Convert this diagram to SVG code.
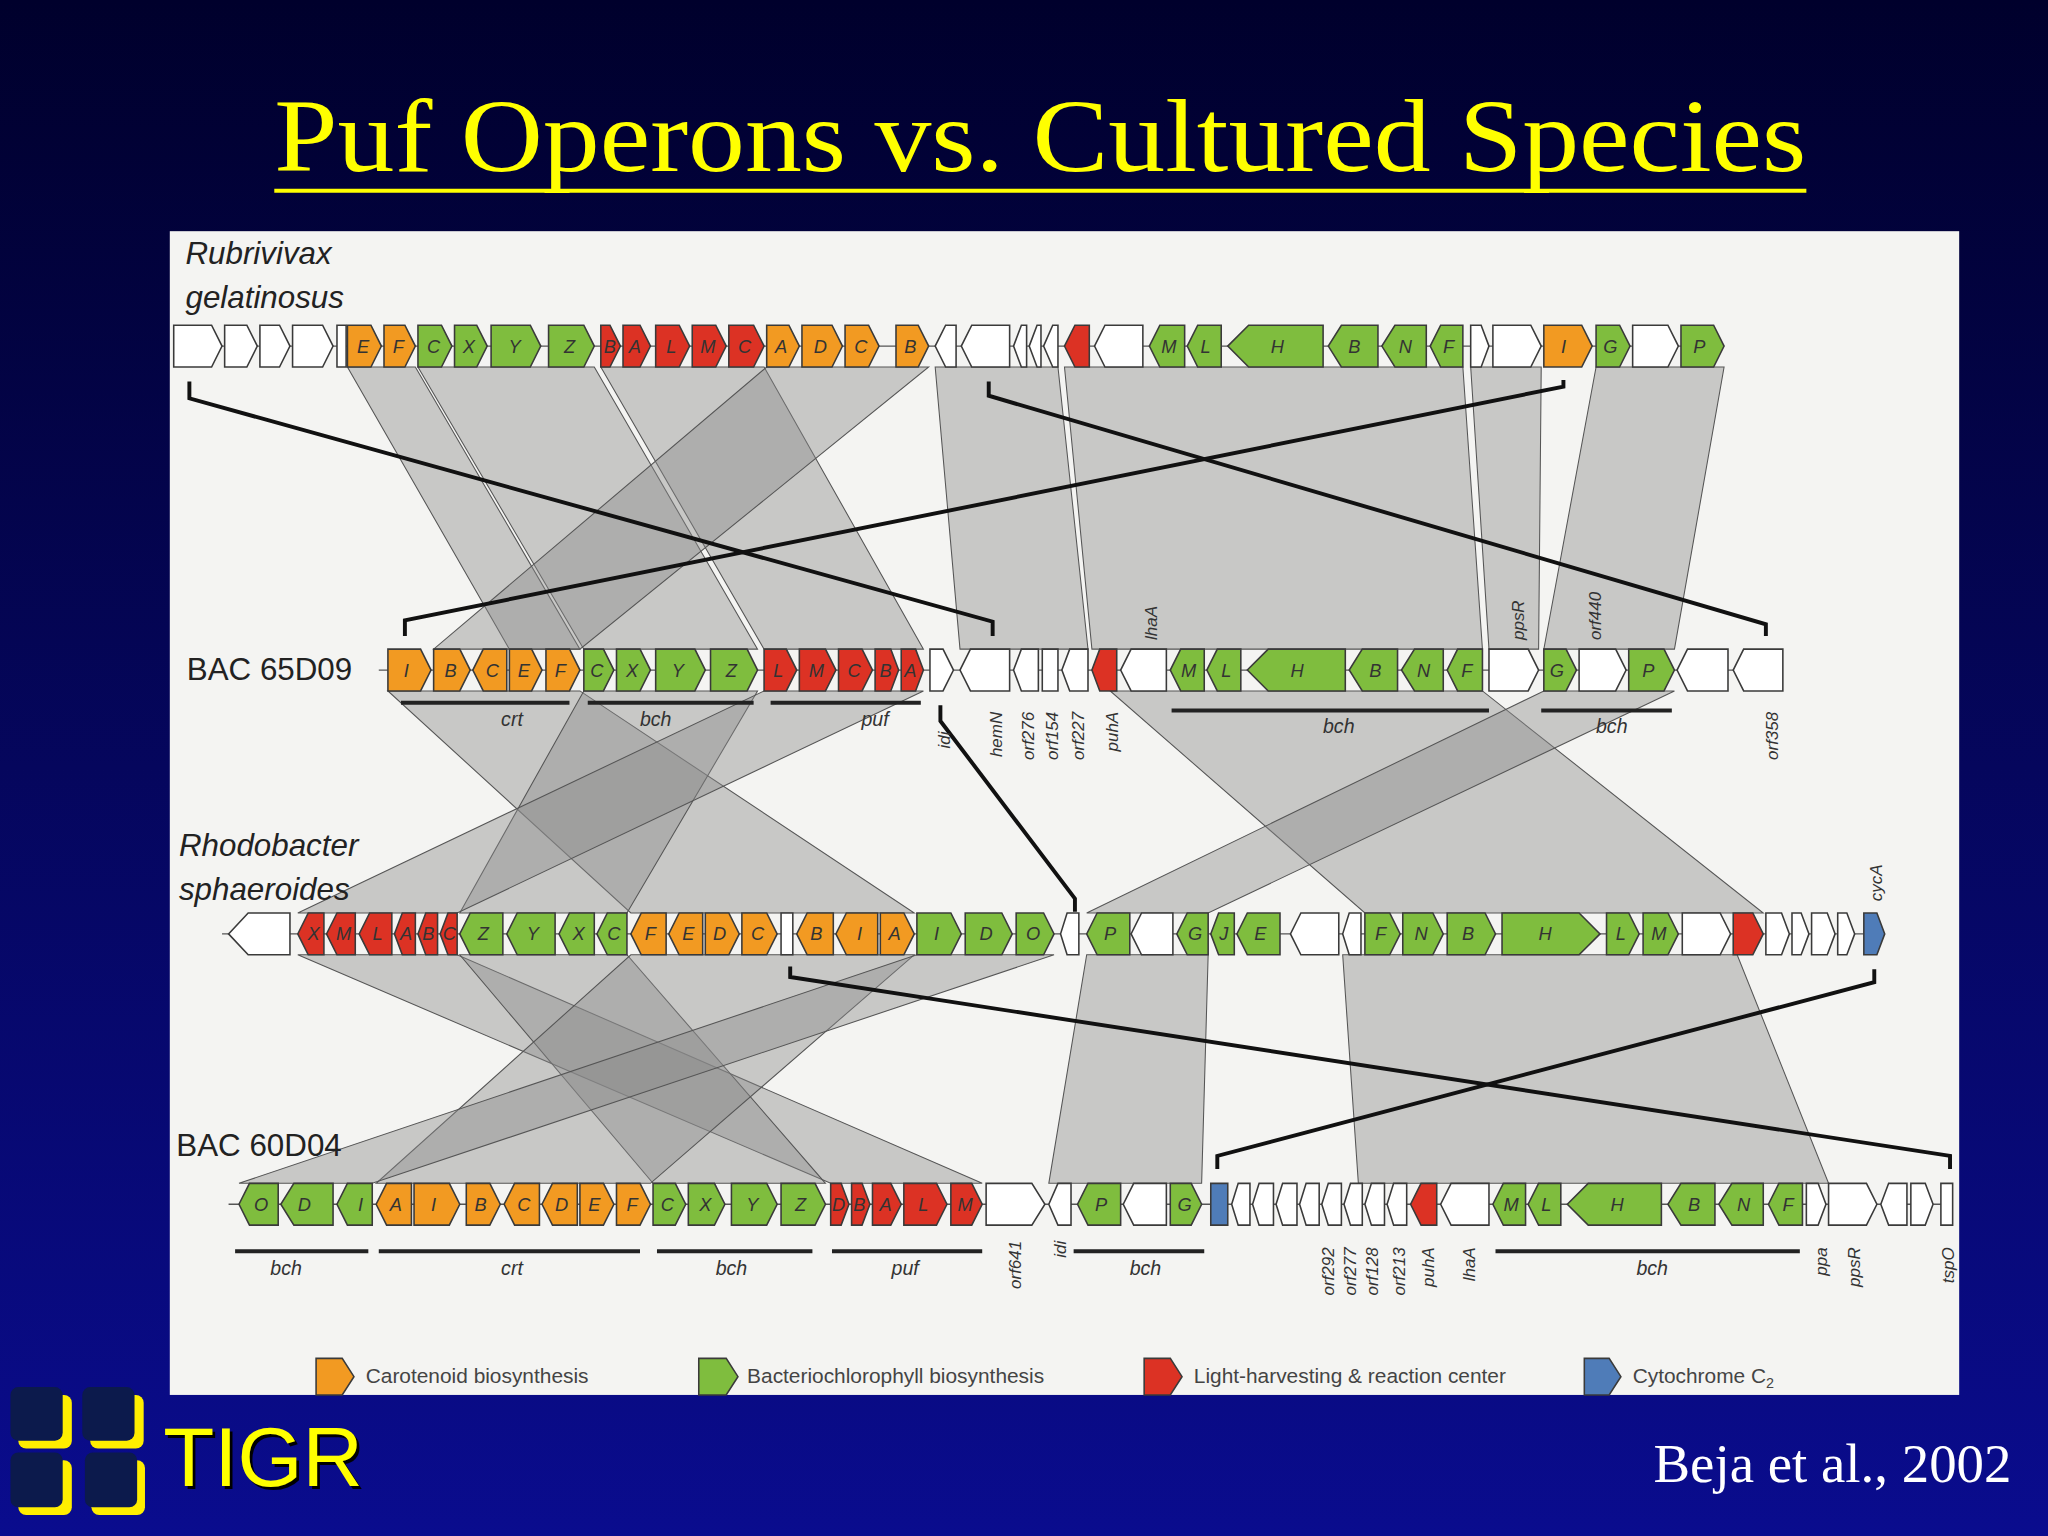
<svg xmlns="http://www.w3.org/2000/svg" width="2048" height="1536" viewBox="0 0 2048 1536">
<defs>
<linearGradient id="bg" x1="0" y1="0" x2="0" y2="1"><stop offset="0" stop-color="#00002c"/><stop offset="1" stop-color="#0a0c8e"/></linearGradient>
<style>
.o{fill:#f29a22;stroke:#3a3a3a;stroke-width:1.2}
.g{fill:#7fbd3e;stroke:#3a3a3a;stroke-width:1.2}
.r{fill:#dc3224;stroke:#3a3a3a;stroke-width:1.2}
.w{fill:#fff;stroke:#3a3a3a;stroke-width:1.2}
.b{fill:#4f7cb8;stroke:#3a3a3a;stroke-width:1.2}
.l{font-family:"Liberation Sans",Arial,sans-serif;font-style:italic;font-size:14px;fill:#333;text-anchor:middle}
.band{fill:#8a8a8a;fill-opacity:0.42;stroke:#555;stroke-width:0.8}
.br{fill:none;stroke:#111;stroke-width:3}
.bar{stroke:#222;stroke-width:3}
.sl{font-family:"Liberation Sans",Arial,sans-serif;font-style:italic;font-size:15px;fill:#333;text-anchor:middle}
.rl{font-family:"Liberation Sans",Arial,sans-serif;font-style:italic;font-size:13px;fill:#333}
.sp{font-family:"Liberation Sans",Arial,sans-serif;font-style:italic;font-size:24px;fill:#222}
.bac{font-family:"Liberation Sans",Arial,sans-serif;font-size:24px;fill:#222}
.lg{font-family:"Liberation Sans",Arial,sans-serif;font-size:16px;fill:#444}
.bb{stroke:#555;stroke-width:1}
.ys{fill:#ffee00}
.ds{fill:#0c1a4c}
</style>
</defs>
<rect width="2048" height="1536" fill="url(#bg)"/>
<g transform="scale(1.30612)">
<g id="title">
<text x="210" y="131" font-family="Liberation Serif,'Times New Roman',serif" font-size="80" fill="#ffff00" textLength="1173" lengthAdjust="spacingAndGlyphs">Puf Operons vs. Cultured Species</text>
<line x1="210" y1="146" x2="1383" y2="146" stroke="#ffff00" stroke-width="3"/>
</g>
<rect id="panel" x="130" y="177" width="1370" height="891" fill="#f4f4f2"/>

<g id="connectors">
<polygon class="band" points="266,281 318,281 444,497 390,497"/>
<polygon class="band" points="320,281 455,281 580,497 447,497"/>
<polygon class="band" points="460,281 585,281 707,497 585,497"/>
<polygon class="band" points="587,281 711,281 444,497 332,497"/>
<polygon class="band" points="716,281 810,281 833,497 735,497"/>
<polygon class="band" points="815,281 1120,281 1135,497 836,497"/>
<polygon class="band" points="1126,281 1180,281 1178,497 1140,497"/>
<polygon class="band" points="1222,281 1320,281 1282,497 1182,497"/>
<polygon class="band" points="297,529 444,529 700,699 483,699"/>
<polygon class="band" points="447,529 580,529 480,699 352,699"/>
<polygon class="band" points="585,529 707,529 350,699 228,699"/>
<polygon class="band" points="850,529 1135,529 1350,699 1045,699"/>
<polygon class="band" points="1182,529 1282,529 925,699 832,699"/>
<polygon class="band" points="228,731 350,731 752,906 636,906"/>
<polygon class="band" points="352,731 480,731 632,906 500,906"/>
<polygon class="band" points="483,731 700,731 498,906 288,906"/>
<polygon class="band" points="702,731 807,731 285,906 183,906"/>
<polygon class="band" points="832,731 925,731 920,906 803,906"/>
<polygon class="band" points="1028,731 1330,731 1400,906 1040,906"/>
<path class="br" d="M145,292V305L760,476V487"/>
<path class="br" d="M757,292V303L1352,478V487"/>
<path class="br" d="M310,487V475L1197,296V291"/>
<path class="br" d="M720,540V552L823,688V698"/>
<path class="br" d="M605,740V748L1493,885V895"/>
<path class="br" d="M1435,742V752L932,885V895"/>
</g>

<g id="labels">
<text class="sp" x="142" y="202">Rubrivivax</text>
<text class="sp" x="142" y="236">gelatinosus</text>
<text class="bac" x="143" y="521">BAC 65D09</text>
<text class="sp" x="137" y="655">Rhodobacter</text>
<text class="sp" x="137" y="689">sphaeroides</text>
<text class="bac" x="135" y="885">BAC 60D04</text>
</g>

<g id="row1">
<line class="bb" x1="133" y1="265" x2="1320" y2="265"/>
<path class="w" d="M133,249H162L170,265L162,281H133Z"/>
<path class="w" d="M172,249H189L197,265L189,281H172Z"/>
<path class="w" d="M199,249H214L222,265L214,281H199Z"/>
<path class="w" d="M224,249H247L255,265L247,281H224Z"/>
<path class="w" d="M258,249H265V281H258Z"/>
<path class="o" d="M266,249H284L292,265L284,281H266Z"/><text class="l" x="278" y="270">E</text>
<path class="o" d="M294,249H310L318,265L310,281H294Z"/><text class="l" x="305" y="270">F</text>
<path class="g" d="M320,249H338L346,265L338,281H320Z"/><text class="l" x="332" y="270">C</text>
<path class="g" d="M348,249H365L373,265L365,281H348Z"/><text class="l" x="359" y="270">X</text>
<path class="g" d="M376,249H406L414,265L406,281H376Z"/><text class="l" x="394" y="270">Y</text>
<path class="g" d="M420,249H447L455,265L447,281H420Z"/><text class="l" x="436" y="270">Z</text>
<path class="r" d="M460,249H467L475,265L467,281H460Z"/><text class="l" x="467" y="270">B</text>
<path class="r" d="M477,249H490L498,265L490,281H477Z"/><text class="l" x="486" y="270">A</text>
<path class="r" d="M502,249H520L528,265L520,281H502Z"/><text class="l" x="514" y="270">L</text>
<path class="r" d="M530,249H548L556,265L548,281H530Z"/><text class="l" x="542" y="270">M</text>
<path class="r" d="M558,249H577L585,265L577,281H558Z"/><text class="l" x="570" y="270">C</text>
<path class="o" d="M587,249H604L612,265L604,281H587Z"/><text class="l" x="598" y="270">A</text>
<path class="o" d="M614,249H637L645,265L637,281H614Z"/><text class="l" x="628" y="270">D</text>
<path class="o" d="M647,249H665L673,265L665,281H647Z"/><text class="l" x="659" y="270">C</text>
<path class="o" d="M686,249H703L711,265L703,281H686Z"/><text class="l" x="697" y="270">B</text>
<path class="w" d="M732,249H724L716,265L724,281H732Z"/>
<path class="w" d="M773,249H744L736,265L744,281H773Z"/>
<path class="w" d="M786,249H782L776,265L782,281H786Z"/>
<path class="w" d="M797,249H794L788,265L794,281H797Z"/>
<path class="w" d="M810,249H806L799,265L806,281H810Z"/>
<path class="r" d="M834,249H823L815,265L823,281H834Z"/>
<path class="w" d="M875,249H846L838,265L846,281H875Z"/>
<path class="g" d="M907,249H888L880,265L888,281H907Z"/><text class="l" x="895" y="270">M</text>
<path class="g" d="M935,249H917L909,265L917,281H935Z"/><text class="l" x="923" y="270">L</text>
<path class="g" d="M1013,249H956L940,265L956,281H1013Z"/><text class="l" x="978" y="270">H</text>
<path class="g" d="M1055,249H1027L1017,265L1027,281H1055Z"/><text class="l" x="1037" y="270">B</text>
<path class="g" d="M1092,249H1068L1058,265L1068,281H1092Z"/><text class="l" x="1076" y="270">N</text>
<path class="g" d="M1120,249H1103L1095,265L1103,281H1120Z"/><text class="l" x="1109" y="270">F</text>
<path class="w" d="M1126,249H1134L1140,265L1134,281H1126Z"/>
<path class="w" d="M1143,249H1172L1180,265L1172,281H1143Z"/>
<path class="o" d="M1182,249H1211L1219,265L1211,281H1182Z"/><text class="l" x="1197" y="270">I</text>
<path class="g" d="M1222,249H1240L1248,265L1240,281H1222Z"/><text class="l" x="1233" y="270">G</text>
<path class="w" d="M1250,249H1277L1285,265L1277,281H1250Z"/>
<path class="g" d="M1287,249H1312L1320,265L1312,281H1287Z"/><text class="l" x="1301" y="270">P</text>
</g>

<g id="row2">
<line class="bb" x1="290" y1="513" x2="1365" y2="513"/>
<path class="o" d="M297,497H322L330,513L322,529H297Z"/><text class="l" x="311" y="518">I</text>
<path class="o" d="M332,497H352L360,513L352,529H332Z"/><text class="l" x="345" y="518">B</text>
<path class="o" d="M388,497H370L362,513L370,529H388Z"/><text class="l" x="377" y="518">C</text>
<path class="o" d="M390,497H407L415,513L407,529H390Z"/><text class="l" x="401" y="518">E</text>
<path class="o" d="M418,497H436L444,513L436,529H418Z"/><text class="l" x="429" y="518">F</text>
<path class="g" d="M447,497H462L470,513L462,529H447Z"/><text class="l" x="457" y="518">C</text>
<path class="g" d="M472,497H490L498,513L490,529H472Z"/><text class="l" x="484" y="518">X</text>
<path class="g" d="M502,497H532L540,513L532,529H502Z"/><text class="l" x="519" y="518">Y</text>
<path class="g" d="M544,497H572L580,513L572,529H544Z"/><text class="l" x="560" y="518">Z</text>
<path class="r" d="M585,497H602L610,513L602,529H585Z"/><text class="l" x="596" y="518">L</text>
<path class="r" d="M612,497H632L640,513L632,529H612Z"/><text class="l" x="625" y="518">M</text>
<path class="r" d="M642,497H660L668,513L660,529H642Z"/><text class="l" x="654" y="518">C</text>
<path class="r" d="M670,497H682L688,513L682,529H670Z"/><text class="l" x="678" y="518">B</text>
<path class="r" d="M690,497H701L707,513L701,529H690Z"/><text class="l" x="697" y="518">A</text>
<path class="w" d="M712,497H722L730,513L722,529H712Z"/>
<path class="w" d="M773,497H743L735,513L743,529H773Z"/>
<path class="w" d="M795,497H782L776,513L782,529H795Z"/>
<path class="w" d="M798,497H810V529H798Z"/>
<path class="w" d="M833,497H819L813,513L819,529H833Z"/>
<path class="r" d="M855,497H842L836,513L842,529H855Z"/>
<path class="w" d="M893,497H866L858,513L866,529H893Z"/>
<path class="g" d="M922,497H904L896,513L904,529H922Z"/><text class="l" x="910" y="518">M</text>
<path class="g" d="M950,497H932L924,513L932,529H950Z"/><text class="l" x="939" y="518">L</text>
<path class="g" d="M1030,497H971L955,513L971,529H1030Z"/><text class="l" x="993" y="518">H</text>
<path class="g" d="M1070,497H1043L1033,513L1043,529H1070Z"/><text class="l" x="1053" y="518">B</text>
<path class="g" d="M1105,497H1083L1073,513L1083,529H1105Z"/><text class="l" x="1090" y="518">N</text>
<path class="g" d="M1135,497H1116L1108,513L1116,529H1135Z"/><text class="l" x="1123" y="518">F</text>
<path class="w" d="M1140,497H1170L1178,513L1170,529H1140Z"/>
<path class="g" d="M1182,497H1199L1207,513L1199,529H1182Z"/><text class="l" x="1192" y="518">G</text>
<path class="w" d="M1209,497H1237L1245,513L1237,529H1209Z"/>
<path class="g" d="M1247,497H1274L1282,513L1274,529H1247Z"/><text class="l" x="1262" y="518">P</text>
<path class="w" d="M1323,497H1292L1284,513L1292,529H1323Z"/>
<path class="w" d="M1365,497H1335L1327,513L1335,529H1365Z"/>
<line class="bar" x1="307" y1="538" x2="436" y2="538"/><text class="sl" x="392" y="556">crt</text>
<line class="bar" x1="450" y1="538" x2="577" y2="538"/><text class="sl" x="502" y="556">bch</text>
<line class="bar" x1="590" y1="538" x2="705" y2="538"/><text class="sl" x="670" y="556">puf</text>
<line class="bar" x1="897" y1="544" x2="1140" y2="544"/><text class="sl" x="1025" y="561">bch</text>
<line class="bar" x1="1180" y1="544" x2="1280" y2="544"/><text class="sl" x="1234" y="561">bch</text>
<text class="rl" transform="translate(727,560) rotate(-90)" text-anchor="end">idi</text>
<text class="rl" transform="translate(767,545) rotate(-90)" text-anchor="end">hemN</text>
<text class="rl" transform="translate(792,545) rotate(-90)" text-anchor="end">orf276</text>
<text class="rl" transform="translate(810,545) rotate(-90)" text-anchor="end">orf154</text>
<text class="rl" transform="translate(830,545) rotate(-90)" text-anchor="end">orf227</text>
<text class="rl" transform="translate(856,545) rotate(-90)" text-anchor="end">puhA</text>
<text class="rl" transform="translate(886,490) rotate(-90)">lhaA</text>
<text class="rl" transform="translate(1167,490) rotate(-90)">ppsR</text>
<text class="rl" transform="translate(1226,490) rotate(-90)">orf440</text>
<text class="rl" transform="translate(1361,545) rotate(-90)" text-anchor="end">orf358</text>
</g>

<g id="row3">
<line class="bb" x1="170" y1="715" x2="1443" y2="715"/>
<path class="w" d="M222,699H190L175,715L190,731H222Z"/>
<path class="r" d="M248,699H236L228,715L236,731H248Z"/><text class="l" x="240" y="720">X</text>
<path class="r" d="M272,699H258L250,715L258,731H272Z"/><text class="l" x="263" y="720">M</text>
<path class="r" d="M300,699H283L275,715L283,731H300Z"/><text class="l" x="289" y="720">L</text>
<path class="r" d="M318,699H308L302,715L308,731H318Z"/><text class="l" x="311" y="720">A</text>
<path class="r" d="M335,699H326L320,715L326,731H335Z"/><text class="l" x="328" y="720">B</text>
<path class="r" d="M350,699H343L337,715L343,731H350Z"/><text class="l" x="344" y="720">C</text>
<path class="g" d="M385,699H360L352,715L360,731H385Z"/><text class="l" x="370" y="720">Z</text>
<path class="g" d="M425,699H396L388,715L396,731H425Z"/><text class="l" x="408" y="720">Y</text>
<path class="g" d="M455,699H436L428,715L436,731H455Z"/><text class="l" x="443" y="720">X</text>
<path class="g" d="M480,699H465L457,715L465,731H480Z"/><text class="l" x="470" y="720">C</text>
<path class="o" d="M510,699H491L483,715L491,731H510Z"/><text class="l" x="498" y="720">F</text>
<path class="o" d="M538,699H520L512,715L520,731H538Z"/><text class="l" x="527" y="720">E</text>
<path class="o" d="M540,699H558L566,715L558,731H540Z"/><text class="l" x="551" y="720">D</text>
<path class="o" d="M568,699H587L595,715L587,731H568Z"/><text class="l" x="580" y="720">C</text>
<path class="w" d="M598,699H607V731H598Z"/>
<path class="o" d="M638,699H618L610,715L618,731H638Z"/><text class="l" x="625" y="720">B</text>
<path class="o" d="M672,699H648L640,715L648,731H672Z"/><text class="l" x="658" y="720">I</text>
<path class="o" d="M674,699H692L700,715L692,731H674Z"/><text class="l" x="685" y="720">A</text>
<path class="g" d="M702,699H728L736,715L728,731H702Z"/><text class="l" x="717" y="720">I</text>
<path class="g" d="M739,699H767L775,715L767,731H739Z"/><text class="l" x="755" y="720">D</text>
<path class="g" d="M778,699H799L807,715L799,731H778Z"/><text class="l" x="791" y="720">O</text>
<path class="w" d="M826,699H817L812,715L817,731H826Z"/>
<path class="g" d="M865,699H840L832,715L840,731H865Z"/><text class="l" x="850" y="720">P</text>
<path class="w" d="M898,699H874L866,715L874,731H898Z"/>
<path class="g" d="M925,699H909L901,715L909,731H925Z"/><text class="l" x="915" y="720">G</text>
<path class="g" d="M945,699H933L927,715L933,731H945Z"/><text class="l" x="937" y="720">J</text>
<path class="g" d="M980,699H955L947,715L955,731H980Z"/><text class="l" x="965" y="720">E</text>
<path class="w" d="M1025,699H996L988,715L996,731H1025Z"/>
<path class="w" d="M1042,699H1033L1028,715L1033,731H1042Z"/>
<path class="g" d="M1045,699H1064L1072,715L1064,731H1045Z"/><text class="l" x="1057" y="720">F</text>
<path class="g" d="M1074,699H1097L1105,715L1097,731H1074Z"/><text class="l" x="1088" y="720">N</text>
<path class="g" d="M1108,699H1137L1145,715L1137,731H1108Z"/><text class="l" x="1124" y="720">B</text>
<path class="g" d="M1150,699H1209L1225,715L1209,731H1150Z"/><text class="l" x="1183" y="720">H</text>
<path class="g" d="M1230,699H1247L1255,715L1247,731H1230Z"/><text class="l" x="1241" y="720">L</text>
<path class="g" d="M1258,699H1277L1285,715L1277,731H1258Z"/><text class="l" x="1270" y="720">M</text>
<path class="w" d="M1288,699H1317L1325,715L1317,731H1288Z"/>
<path class="r" d="M1327,699H1342L1350,715L1342,731H1327Z"/>
<path class="w" d="M1352,699H1364L1370,715L1364,731H1352Z"/>
<path class="w" d="M1372,699H1379L1385,715L1379,731H1372Z"/>
<path class="w" d="M1387,699H1399L1405,715L1399,731H1387Z"/>
<path class="w" d="M1407,699H1414L1420,715L1414,731H1407Z"/>
<path class="b" d="M1427,699H1437L1443,715L1437,731H1427Z"/>
<text class="rl" transform="translate(1441,690) rotate(-90)">cycA</text>
</g>

<g id="row4">
<line class="bb" x1="175" y1="922" x2="1495" y2="922"/>
<path class="g" d="M213,906H191L183,922L191,938H213Z"/><text class="l" x="200" y="927">O</text>
<path class="g" d="M255,906H225L215,922L225,938H255Z"/><text class="l" x="233" y="927">D</text>
<path class="g" d="M285,906H266L258,922L266,938H285Z"/><text class="l" x="276" y="927">I</text>
<path class="o" d="M315,906H296L288,922L296,938H315Z"/><text class="l" x="303" y="927">A</text>
<path class="o" d="M317,906H344L352,922L344,938H317Z"/><text class="l" x="332" y="927">I</text>
<path class="o" d="M357,906H375L383,922L375,938H357Z"/><text class="l" x="368" y="927">B</text>
<path class="o" d="M413,906H394L386,922L394,938H413Z"/><text class="l" x="401" y="927">C</text>
<path class="o" d="M442,906H423L415,922L423,938H442Z"/><text class="l" x="430" y="927">D</text>
<path class="o" d="M444,906H462L470,922L462,938H444Z"/><text class="l" x="455" y="927">E</text>
<path class="o" d="M472,906H490L498,922L490,938H472Z"/><text class="l" x="484" y="927">F</text>
<path class="g" d="M500,906H517L525,922L517,938H500Z"/><text class="l" x="511" y="927">C</text>
<path class="g" d="M527,906H547L555,922L547,938H527Z"/><text class="l" x="540" y="927">X</text>
<path class="g" d="M560,906H587L595,922L587,938H560Z"/><text class="l" x="576" y="927">Y</text>
<path class="g" d="M598,906H624L632,922L624,938H598Z"/><text class="l" x="613" y="927">Z</text>
<path class="r" d="M636,906H644L650,922L644,938H636Z"/><text class="l" x="642" y="927">D</text>
<path class="r" d="M652,906H660L666,922L660,938H652Z"/><text class="l" x="658" y="927">B</text>
<path class="r" d="M668,906H682L690,922L682,938H668Z"/><text class="l" x="678" y="927">A</text>
<path class="r" d="M692,906H717L725,922L717,938H692Z"/><text class="l" x="707" y="927">L</text>
<path class="r" d="M728,906H744L752,922L744,938H728Z"/><text class="l" x="739" y="927">M</text>
<path class="w" d="M755,906H790L800,922L790,938H755Z"/>
<path class="w" d="M820,906H810L803,922L810,938H820Z"/>
<path class="g" d="M858,906H833L825,922L833,938H858Z"/><text class="l" x="843" y="927">P</text>
<path class="w" d="M893,906H868L860,922L868,938H893Z"/>
<path class="g" d="M896,906H912L920,922L912,938H896Z"/><text class="l" x="907" y="927">G</text>
<path class="b" d="M927,906H940V938H927Z"/>
<path class="w" d="M957,906H948L943,922L948,938H957Z"/>
<path class="w" d="M975,906H964L959,922L964,938H975Z"/>
<path class="w" d="M993,906H982L977,922L982,938H993Z"/>
<path class="w" d="M1010,906H1000L995,922L1000,938H1010Z"/>
<path class="w" d="M1027,906H1017L1012,922L1017,938H1027Z"/>
<path class="w" d="M1043,906H1034L1029,922L1034,938H1043Z"/>
<path class="w" d="M1060,906H1050L1045,922L1050,938H1060Z"/>
<path class="w" d="M1077,906H1067L1062,922L1067,938H1077Z"/>
<path class="r" d="M1100,906H1088L1080,922L1088,938H1100Z"/>
<path class="w" d="M1140,906H1111L1103,922L1111,938H1140Z"/>
<path class="g" d="M1168,906H1151L1143,922L1151,938H1168Z"/><text class="l" x="1157" y="927">M</text>
<path class="g" d="M1195,906H1178L1170,922L1178,938H1195Z"/><text class="l" x="1184" y="927">L</text>
<path class="g" d="M1272,906H1216L1200,922L1216,938H1272Z"/><text class="l" x="1238" y="927">H</text>
<path class="g" d="M1313,906H1287L1277,922L1287,938H1313Z"/><text class="l" x="1297" y="927">B</text>
<path class="g" d="M1350,906H1326L1316,922L1326,938H1350Z"/><text class="l" x="1335" y="927">N</text>
<path class="g" d="M1380,906H1362L1354,922L1362,938H1380Z"/><text class="l" x="1369" y="927">F</text>
<path class="w" d="M1383,906H1392L1398,922L1392,938H1383Z"/>
<path class="w" d="M1400,906H1429L1437,922L1429,938H1400Z"/>
<path class="w" d="M1460,906H1446L1440,922L1446,938H1460Z"/>
<path class="w" d="M1463,906H1474L1480,922L1474,938H1463Z"/>
<path class="w" d="M1486,906H1495V938H1486Z"/>
<line class="bar" x1="180" y1="958" x2="282" y2="958"/><text class="sl" x="219" y="976">bch</text>
<line class="bar" x1="290" y1="958" x2="490" y2="958"/><text class="sl" x="392" y="976">crt</text>
<line class="bar" x1="503" y1="958" x2="622" y2="958"/><text class="sl" x="560" y="976">bch</text>
<line class="bar" x1="637" y1="958" x2="752" y2="958"/><text class="sl" x="693" y="976">puf</text>
<line class="bar" x1="822" y1="958" x2="922" y2="958"/><text class="sl" x="877" y="976">bch</text>
<line class="bar" x1="1145" y1="958" x2="1378" y2="958"/><text class="sl" x="1265" y="976">bch</text>
<text class="rl" transform="translate(782,950) rotate(-90)" text-anchor="end">orf641</text>
<text class="rl" transform="translate(816,950) rotate(-90)" text-anchor="end">idi</text>
<text class="rl" transform="translate(1021,955) rotate(-90)" text-anchor="end">orf292</text>
<text class="rl" transform="translate(1038,955) rotate(-90)" text-anchor="end">orf277</text>
<text class="rl" transform="translate(1055,955) rotate(-90)" text-anchor="end">orf128</text>
<text class="rl" transform="translate(1076,955) rotate(-90)" text-anchor="end">orf213</text>
<text class="rl" transform="translate(1098,955) rotate(-90)" text-anchor="end">puhA</text>
<text class="rl" transform="translate(1129,955) rotate(-90)" text-anchor="end">lhaA</text>
<text class="rl" transform="translate(1399,955) rotate(-90)" text-anchor="end">ppa</text>
<text class="rl" transform="translate(1424,955) rotate(-90)" text-anchor="end">ppsR</text>
<text class="rl" transform="translate(1496,955) rotate(-90)" text-anchor="end">tspO</text>
</g>

<g id="legend">
<path class="o" d="M242,1040H262L271,1054L262,1068H242Z"/><text class="lg" x="280" y="1059">Carotenoid biosynthesis</text>
<path class="g" d="M535,1040H556L565,1054L556,1068H535Z"/><text class="lg" x="572" y="1059">Bacteriochlorophyll biosynthesis</text>
<path class="r" d="M876,1040H896L905,1054L896,1068H876Z"/><text class="lg" x="914" y="1059">Light-harvesting &amp; reaction center</text>
<path class="b" d="M1213,1040H1232L1241,1054L1232,1068H1213Z"/><text class="lg" x="1250" y="1059">Cytochrome C<tspan font-size="11" dy="4">2</tspan></text>
</g>

<g id="logo">
<rect class="ys" x="14" y="1068" width="41" height="41" rx="6"/>
<rect class="ys" x="69" y="1068" width="41" height="41" rx="6"/>
<rect class="ys" x="14" y="1118" width="41" height="42" rx="6"/>
<rect class="ys" x="70" y="1118" width="41" height="42" rx="6"/>
<rect class="ds" x="8" y="1062" width="40" height="41" rx="6"/>
<rect class="ds" x="63" y="1062" width="40" height="41" rx="6"/>
<rect class="ds" x="8" y="1112" width="40" height="42" rx="6"/>
<rect class="ds" x="65" y="1112" width="40" height="42" rx="6"/>
<text x="127" y="1140" font-family="Liberation Sans,Arial,sans-serif" font-size="64" fill="#000">TIGR</text>
<text x="125" y="1138" font-family="Liberation Sans,Arial,sans-serif" font-size="64" fill="#ffff00">TIGR</text>
</g>
<text x="1540" y="1135" font-family="Liberation Serif,'Times New Roman',serif" font-size="42" fill="#ffffff" text-anchor="end">Beja et al., 2002</text>
</g>
</svg>
